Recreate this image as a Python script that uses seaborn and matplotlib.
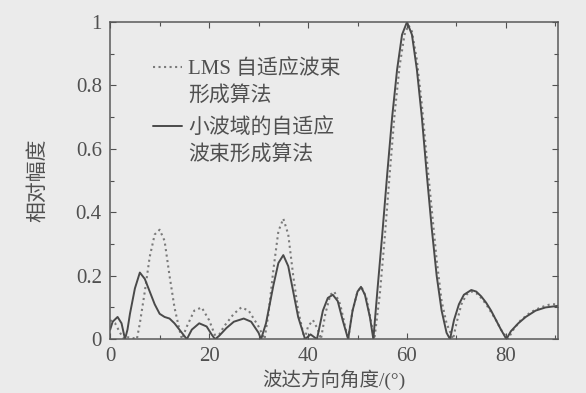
import matplotlib
matplotlib.use("Agg")
import matplotlib.pyplot as plt
import seaborn as sns
from matplotlib.ticker import MultipleLocator
from matplotlib.legend_handler import HandlerLine2D

# LMS adaptive beamforming (dotted)
lms_angle = [0, 1, 2, 2.8, 3.6, 4.5, 5.4, 6, 7, 8, 9, 10, 11, 12, 13, 14, 14.5,
             15.5, 17, 18.5, 20, 21.5, 23, 25, 26.5, 28, 30, 31.2, 32, 33, 34,
             35, 36, 37, 38, 39.3, 40, 41, 42, 42.6, 43.5, 44.5, 45.3, 46.5,
             47.5, 48.1, 49, 50, 50.8, 51.8, 52.8, 53.4, 54.5, 55.5, 56.5, 57.5,
             58.5, 59.5, 60.3, 61, 62, 63, 64, 65, 66, 67, 68, 69.3, 70, 71, 72,
             73, 74, 75, 76, 77, 78, 79, 80.4, 81.5, 83, 85, 87, 89, 90.5]
lms_amp = [0.06, 0.05, 0.02, 0.0, 0.006, 0.004, 0.0, 0.05, 0.15, 0.26, 0.33,
           0.345, 0.31, 0.2, 0.1, 0.03, 0.0, 0.04, 0.09, 0.1, 0.06, 0.0, 0.04,
           0.08, 0.1, 0.09, 0.04, 0.0, 0.08, 0.22, 0.34, 0.38, 0.33, 0.2, 0.09,
           0.0, 0.04, 0.06, 0.03, 0.0, 0.08, 0.14, 0.15, 0.11, 0.04, 0.0, 0.09,
           0.15, 0.165, 0.13, 0.05, 0.0, 0.14, 0.32, 0.52, 0.71, 0.86, 0.96,
           0.99, 0.97, 0.88, 0.74, 0.57, 0.41, 0.25, 0.12, 0.05, 0.0, 0.05,
           0.11, 0.14, 0.15, 0.145, 0.13, 0.11, 0.085, 0.06, 0.03, 0.0, 0.03,
           0.06, 0.085, 0.1, 0.11, 0.11]

# wavelet-domain adaptive beamforming (solid)
wav_angle = [0, 0.5, 1.5, 2.3, 3, 3.5, 4, 5, 6, 7, 8, 9, 10, 11, 12, 13, 14,
             15, 15.5, 16.5, 18, 19.5, 20.5, 21.2, 22, 23.5, 25, 27, 28.5, 30,
             30.5, 31.5, 33, 34, 35, 36, 37, 38, 39.4, 40.5, 41.8, 43, 44, 45,
             46, 47, 48.1, 49, 50, 50.7, 51.5, 52.5, 53.2, 54, 55, 56, 57, 58,
             59, 60, 61, 62, 63, 64, 65, 66, 67, 68, 68.7, 69.5, 70.5, 71.5, 73,
             74, 75, 76, 77, 78, 79, 80.1, 81, 82.5, 84, 86, 88, 90.5]
wav_amp = [0.03, 0.055, 0.07, 0.05, 0.0, 0.03, 0.08, 0.16, 0.21, 0.19, 0.15,
           0.11, 0.08, 0.07, 0.065, 0.05, 0.03, 0.01, 0.0, 0.03, 0.05, 0.04,
           0.015, 0.0, 0.01, 0.035, 0.055, 0.065, 0.055, 0.02, 0.0, 0.05, 0.17,
           0.24, 0.265, 0.23, 0.15, 0.07, 0.0, 0.015, 0.0, 0.09, 0.13, 0.14,
           0.12, 0.06, 0.0, 0.09, 0.15, 0.165, 0.14, 0.07, 0.0, 0.15, 0.33,
           0.52, 0.7, 0.85, 0.96, 1.0, 0.96, 0.85, 0.7, 0.52, 0.35, 0.2, 0.09,
           0.02, 0.0, 0.06, 0.11, 0.14, 0.155, 0.15, 0.135, 0.115, 0.09, 0.06,
           0.03, 0.0, 0.025, 0.05, 0.07, 0.09, 0.1, 0.105]

lms_label = "LMS 自适应波束\n形成算法"
wav_label = "小波域的自适应\n波束形成算法"
x_ticks = [0, 20, 40, 60, 80]
y_ticks = [0, 0.2, 0.4, 0.6, 0.8, 1]
y_tick_labels = ["0", "0.2", "0.4", "0.6", "0.8", "1"]

bg = "#ebebeb"
ink = "#505050"
leg_size = 15
leg_linespacing = 1.45


# legend handle sits on the first line of a two-line label
class FirstLineHandler(HandlerLine2D):
    def create_artists(self, legend, orig_handle, xdescent, ydescent,
                       width, height, fontsize, trans):
        shift = leg_linespacing * fontsize
        return super().create_artists(legend, orig_handle, xdescent,
                                      ydescent - shift, width, height,
                                      fontsize, trans)


sns.set_style("ticks")
plt.rcParams["font.family"] = ["Liberation Serif", "Noto Sans CJK SC"]
plt.rcParams["text.color"] = ink
plt.rcParams["axes.labelcolor"] = ink
plt.rcParams["xtick.color"] = ink
plt.rcParams["ytick.color"] = ink

fig = plt.figure(figsize=(5.86, 3.93), dpi=100, facecolor=bg)
ax = fig.add_axes([0.188, 0.137, 0.764, 0.807])
ax.set_facecolor(bg)

sns.lineplot(x=lms_angle, y=lms_amp, ax=ax, color="#7a7a7a", linestyle=":",
             linewidth=1.5, label=lms_label)
sns.lineplot(x=wav_angle, y=wav_amp, ax=ax, color="#4a4a4a", linestyle="-",
             linewidth=1.4, label=wav_label)

ax.set_xlim(0, 90.5)
ax.set_ylim(0, 1)
ax.set_xticks(x_ticks)
ax.set_yticks(y_ticks)
ax.set_yticklabels(y_tick_labels)
ax.xaxis.set_minor_locator(MultipleLocator(10))
ax.yaxis.set_minor_locator(MultipleLocator(0.1))
ax.tick_params(which="both", direction="in", top=True, right=True,
               labelsize=15, length=4, width=0.8, pad=6)
ax.tick_params(which="minor", length=3)
for s in ax.spines.values():
    s.set_color("#5a5a5a")
    s.set_linewidth(1.1)

ax.set_xlabel("波达方向角度/(°)", fontsize=14, labelpad=2)
ax.set_ylabel("相对幅度", fontsize=15, labelpad=20)

handles, labels = ax.get_legend_handles_labels()
leg = ax.legend(handles, labels, loc="upper left",
                bbox_to_anchor=(0.072, 0.915), frameon=False,
                fontsize=leg_size, handlelength=1.4, handletextpad=0.3,
                labelspacing=0.6, borderpad=0,
                handler_map={h: FirstLineHandler() for h in handles})
for t in leg.get_texts():
    t.set_linespacing(leg_linespacing)

fig.savefig("out.png", dpi=100, facecolor=bg)
